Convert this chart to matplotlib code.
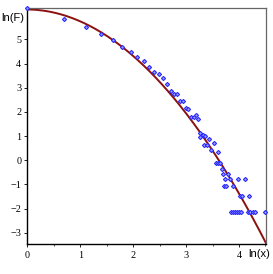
import matplotlib
matplotlib.use("Agg")
import matplotlib.pyplot as plt
import numpy as np
from matplotlib.ticker import MultipleLocator

# observed points: ln(x), ln(F)
ln_x = [0.00, 0.69, 1.10, 1.39, 1.61, 1.79, 1.95, 2.08, 2.20, 2.30,
        2.40, 2.48, 2.56, 2.64, 2.71, 2.77, 2.83, 2.89, 2.94, 3.00,
        3.04, 3.09, 3.14, 3.18, 3.22,
        3.27, 3.31, 3.36, 3.26, 3.43, 3.52, 3.33, 3.39, 3.47, 3.61,
        3.57, 3.61, 3.64, 3.67, 3.69, 3.80, 3.74, 3.83, 3.98, 4.12,
        3.72, 3.76, 3.88, 4.02, 4.06, 4.19,
        3.85, 3.89, 3.93, 3.96, 3.99, 4.04, 4.17, 4.20, 4.27, 4.30, 4.50]
ln_F = [6.28, 5.85, 5.52, 5.22, 4.97, 4.67, 4.46, 4.26, 4.12, 3.84,
        3.66, 3.55, 3.41, 3.15, 2.88, 2.76, 2.72, 2.45, 2.47, 2.16,
        2.12, 1.77, 1.80, 1.86, 1.69,
        1.11, 1.06, 1.00, 0.95, 0.87, 0.72, 0.61, 0.61, 0.42, 0.32,
        -0.10, -0.10, -0.10, -0.37, -0.55, -0.55, -0.78, -0.78, -0.78, -0.78,
        -1.07, -1.07, -1.07, -1.48, -1.48, -1.48,
        -2.16, -2.16, -2.16, -2.16, -2.16, -2.16, -2.16, -2.16, -2.16, -2.16, -2.16]

# fitted quadratic in ln(x)
fit_a, fit_b, fit_c = 6.24, -0.025, -0.47

fig = plt.figure(figsize=(2.73, 2.74), dpi=100)
ax = fig.add_axes([0.1007, 0.1084, 0.8737, 0.8642])

xs = np.linspace(0, 4.51, 200)
ax.plot(xs, fit_a + fit_b * xs + fit_c * xs ** 2, color='#8b1010', linewidth=1.4, zorder=2)
ax.plot(ln_x, ln_F, linestyle='none', marker='D', markersize=2.1,
        markerfacecolor='#a0a0ff', markeredgecolor='#2a2aff', markeredgewidth=0.8,
        clip_on=False, zorder=3)

ax.set_xlim(0, 4.51)
ax.set_ylim(-3.48, 6.32)

ax.xaxis.set_major_locator(MultipleLocator(1))
ax.xaxis.set_minor_locator(MultipleLocator(0.5))
ax.set_yticks([-3, -2, -1, 0, 1, 2, 3, 4, 5])

for lab in ax.get_xticklabels() + ax.get_yticklabels():
    lab.set_family('Liberation Serif')
    lab.set_fontsize(7.3)
ax.tick_params(axis='both', which='major', length=2.5, width=0.6, direction='out', pad=2)
ax.tick_params(axis='x', which='minor', length=1.5, width=0.5, direction='out')

for side in ['left', 'bottom']:
    ax.spines[side].set_color('black')
    ax.spines[side].set_linewidth(1.0)
for side in ['top', 'right']:
    ax.spines[side].set_color('#666666')
    ax.spines[side].set_linewidth(0.9)

fig.text(0.004, 0.933, 'ln(F)', ha='left', va='center', fontsize=8, family='Liberation Sans')
fig.text(0.908, 0.073, 'ln(x)', ha='left', va='center', fontsize=8, family='Liberation Sans')

fig.savefig('out.png', dpi=100)
